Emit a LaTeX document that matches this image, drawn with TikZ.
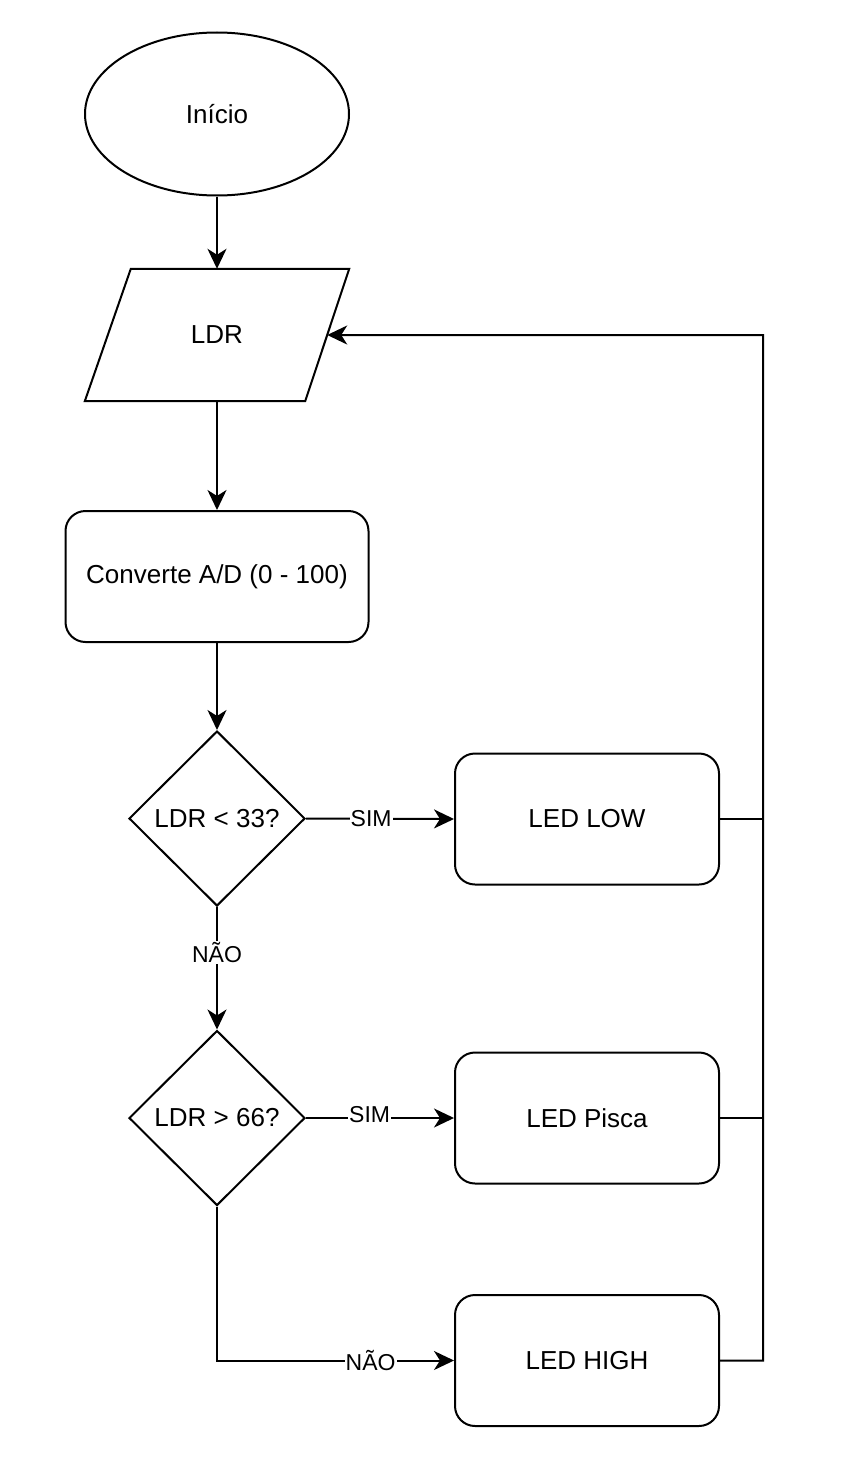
\documentclass[tikz,border=0pt]{standalone}
\usepackage{fontspec}
\setmainfont{Liberation Sans}
\usetikzlibrary{shapes.geometric, arrows.meta, calc}
\begin{document}
\begin{tikzpicture}[x=1pt, y=-1pt,
  shp/.style={draw, line width=2pt, inner sep=0pt, font=\fontsize{26}{30}\selectfont},
  rbox/.style={shp, rectangle, rounded corners=20pt, minimum width=264pt, minimum height=131pt},
  dia/.style={shp, diamond, minimum width=176pt, minimum height=175pt},
  conn/.style={line width=2pt},
  arr/.style={conn, -{Stealth[length=20pt, width=19pt, inset=6pt]}},
  lbl/.style={fill=white, inner sep=1pt, font=\fontsize{23}{27}\selectfont}]
\useasboundingbox (0,0) rectangle (844,1464);
\fill[white] (0,0) rectangle (844,1464);

\node[shp, ellipse, minimum width=264pt, minimum height=163pt] (inicio) at (217,114) {Início};

\node[inner sep=0pt, minimum width=264pt, minimum height=132pt, font=\fontsize{26}{30}\selectfont] (ldr) at (217,335) {LDR};
\draw[conn] ([xshift=46pt]ldr.north west) -- (ldr.north east) -- ([xshift=-44pt]ldr.south east) -- (ldr.south west) -- cycle;
\coordinate (ldrin) at ($(ldr.north east)!0.5!([xshift=-44pt]ldr.south east)$);

\node[rbox, minimum width=303pt] (conv) at (217,576.5) {Converte A/D (0 - 100)};
\node[dia] (d1) at (217,818.5) {LDR \textless{} 33?};
\node[dia] (d2) at (217,1118) {LDR \textgreater{} 66?};
\node[rbox] (low) at (587,819) {LED LOW};
\node[rbox] (pisca) at (587,1118) {LED Pisca};
\node[rbox] (high) at (587,1360.5) {LED HIGH};
\coordinate (rail) at (763,335);

\draw[arr] (inicio.south) -- (ldr.north);
\draw[arr] (ldr.south) -- (conv.north);
\draw[arr] (conv.south) -- (d1.north);
\draw[arr] (d1.east) -- node[lbl, pos=0.44] {SIM} (low.west);
\draw[arr] (d1.south) -- node[lbl, pos=0.37] {NÃO} (d2.north);
\draw[arr] (d2.east) -- node[lbl, pos=0.43, yshift=3pt] {SIM} (pisca.west);
\draw[arr] (d2.south) |- node[lbl, pos=0.824] {NÃO} (high.west);
\draw[arr] (high.east) -| (rail) -- (ldrin);
\draw[conn] (low.east) -- (low.east -| rail);
\draw[conn] (pisca.east) -- (pisca.east -| rail);
\end{tikzpicture}
\end{document}
